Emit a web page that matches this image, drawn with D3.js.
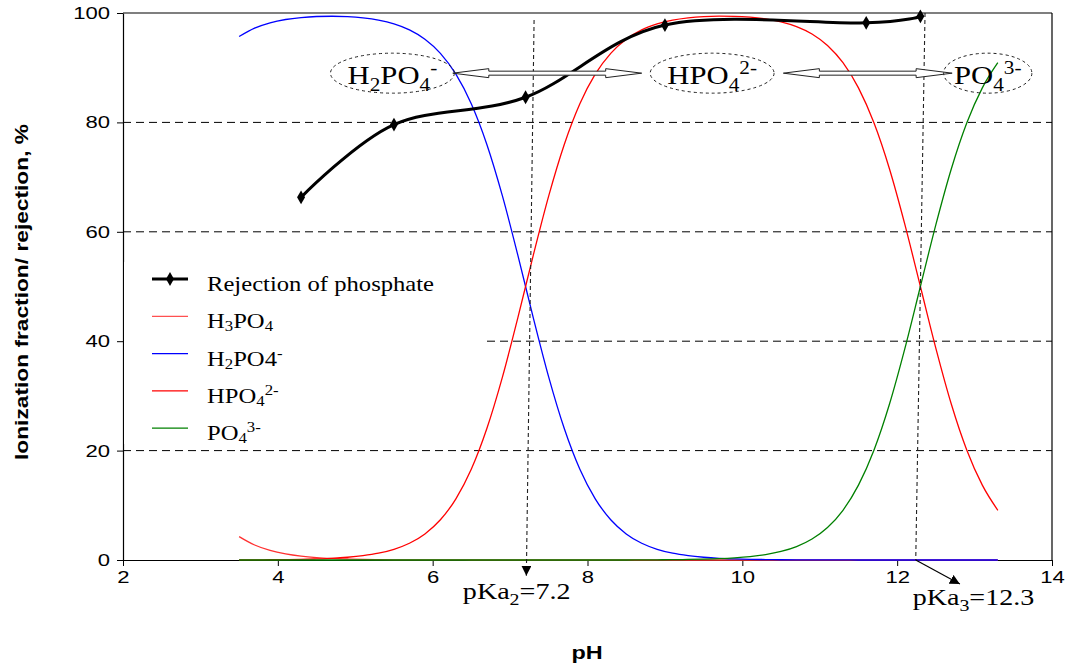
<!DOCTYPE html>
<html>
<head>
<meta charset="utf-8">
<script src="https://cdn.jsdelivr.net/npm/d3@7"></script>
<style>
  body { margin: 0; background: #fff; }
  svg { display: block; }
</style>
</head>
<body>
<svg id="chart" width="1069" height="668"></svg>
<script>
// pH grid of the speciation curves
const pH = [3.5, 3.7, 3.9, 4.1, 4.3, 4.5, 4.7, 4.9, 5.1, 5.3,
            5.5, 5.7, 5.9, 6.1, 6.3, 6.5, 6.7, 6.9, 7.1, 7.3,
            7.5, 7.7, 7.9, 8.1, 8.3, 8.5, 8.7, 8.9, 9.1, 9.3,
            9.5, 9.7, 9.9, 10.1, 10.3, 10.5, 10.7, 10.9, 11.1, 11.3,
            11.5, 11.7, 11.9, 12.1, 12.3, 12.5, 12.7, 12.9, 13.1, 13.3];

// Ionization fractions, %
const h3po4 = [4.28, 2.74, 1.75, 1.11, 0.70, 0.44, 0.28, 0.18, 0.11, 0.07,
               0.04, 0.03, 0.02, 0.01, 0.01, 0, 0, 0, 0, 0,
               0, 0, 0, 0, 0, 0, 0, 0, 0, 0,
               0, 0, 0, 0, 0, 0, 0, 0, 0, 0,
               0, 0, 0, 0, 0, 0, 0, 0, 0, 0];
const h2po4 = [95.70, 97.23, 98.20, 98.81, 99.17, 99.36, 99.41, 99.33, 99.10, 98.69,
               98.00, 96.91, 95.21, 92.63, 88.82, 83.37, 75.97, 66.61, 55.73, 44.27,
               33.39, 24.03, 16.63, 11.18, 7.36, 4.77, 3.06, 1.96, 1.24, 0.79,
               0.50, 0.31, 0.20, 0.12, 0.08, 0.05, 0.03, 0.02, 0.01, 0.01,
               0, 0, 0, 0, 0, 0, 0, 0, 0, 0];
const hpo4 = [0.02, 0.03, 0.05, 0.08, 0.12, 0.20, 0.31, 0.50, 0.79, 1.24,
              1.96, 3.06, 4.77, 7.36, 11.18, 16.63, 24.03, 33.39, 44.27, 55.73,
              66.61, 75.97, 83.37, 88.82, 92.63, 95.21, 96.91, 97.99, 98.69, 99.11,
              99.35, 99.43, 99.40, 99.25, 98.93, 98.39, 97.52, 96.17, 94.06, 90.91,
              86.32, 79.93, 71.53, 61.31, 50.00, 38.69, 28.47, 20.07, 13.68, 9.09];
const po4 = [0, 0, 0, 0, 0, 0, 0, 0, 0, 0,
             0, 0, 0, 0, 0, 0, 0, 0, 0, 0,
             0, 0, 0, 0, 0, 0, 0.02, 0.04, 0.06, 0.10,
             0.16, 0.25, 0.40, 0.63, 0.99, 1.56, 2.45, 3.83, 5.94, 9.09,
             13.68, 20.07, 28.47, 38.69, 50.00, 61.31, 71.53, 79.93, 86.32, 90.91];

// Measured phosphate rejection, %
const rejectionPH = [4.3, 5.5, 7.2, 9.0, 11.6, 12.3];
const rejection = [66.3, 79.6, 84.6, 97.8, 98.2, 99.4];

const xTicks = [2, 4, 6, 8, 10, 12, 14];
const yTicks = [0, 20, 40, 60, 80, 100];
const gridValues = [20, 40, 60, 80];

// Label pieces: [text, role]; role is "sub", "sup" or undefined
const seriesNames = [
  [["Rejection of phosphate"]],
  [["H"], ["3", "sub"], ["PO"], ["4", "sub"]],
  [["H"], ["2", "sub"], ["PO4"], ["-", "sup"]],
  [["HPO"], ["4", "sub"], ["2-", "sup"]],
  [["PO"], ["4", "sub"], ["3-", "sup"]]
];

// Species zones along the top (pH of centre, value, half-width in pH)
const zoneLabels = [
  { cx: 5.48, cy: 89.0, rx: 0.80, parts: [["H"], ["2", "sub"], ["PO"], ["4", "sub"], ["-", "sup"]] },
  { cx: 9.61, cy: 89.0, rx: 0.80, parts: [["HPO"], ["4", "sub"], ["2-", "sup"]] },
  { cx: 13.17, cy: 89.0, rx: 0.57, parts: [["PO"], ["4", "sub"], ["3-", "sup"]] }
];
const zoneArrows = [[6.26, 8.70], [10.53, 12.71]];
const zoneArrowValue = 89.0;

// pKa markers
const pKaLines = [
  { top: [7.31, 98.7], bottom: [7.21, -2.9], arrow: null },
  { top: [12.36, 100], bottom: [12.24, 0], arrow: [12.81, -4.4] }
];
const pKaLabels = [
  { x: 6.39, y: -7.1, parts: [["pKa"], ["2", "sub"], ["=7.2"]] },
  { x: 12.20, y: -8.2, parts: [["pKa"], ["3", "sub"], ["=12.3"]] }
];

const SANS = "'Liberation Sans', Arial, sans-serif";
const SERIF = "'Liberation Serif', 'Times New Roman', serif";

const svg = d3.select("#chart");
const x = d3.scaleLinear().domain([2, 14]).range([123, 1052]);
const y = d3.scaleLinear().domain([0, 100]).range([560, 13]);

const defs = svg.append("defs");
defs.append("marker")
  .attr("id", "headBlack")
  .attr("viewBox", "0 0 10 10")
  .attr("refX", 10).attr("refY", 5)
  .attr("markerWidth", 10).attr("markerHeight", 10)
  .attr("markerUnits", "userSpaceOnUse")
  .attr("orient", "auto")
  .append("path").attr("d", "M0,0 L10,5 L0,10 Z").attr("fill", "#000");

// writes label pieces as tspans with sub/superscript offsets
function writeParts(text, parts, size, subSize, subDy, supDy) {
  let offset = 0;
  parts.forEach(([s, role]) => {
    const target = role === "sub" ? subDy : role === "sup" ? supDy : 0;
    text.append("tspan")
      .attr("dy", target - offset)
      .attr("font-size", role ? subSize : size)
      .text(s);
    offset = target;
  });
}

// text whose glyphs are widened along the reading direction
function wideText(parent, px, py, sx, extra) {
  return parent.append("g")
    .attr("transform", `translate(${px},${py}) ${extra || ""} scale(${sx},1)`)
    .append("text");
}

// horizontal dashed gridlines
svg.append("g").selectAll("line").data(gridValues).join("line")
  .attr("x1", x(2)).attr("x2", x(14))
  .attr("y1", d => y(d)).attr("y2", d => y(d))
  .attr("stroke", "#000").attr("stroke-width", 1)
  .attr("stroke-dasharray", "8,5");

// frame: top and right edges
svg.append("line").attr("x1", x(2)).attr("x2", x(14)).attr("y1", y(100)).attr("y2", y(100))
  .attr("stroke", "#000").attr("stroke-width", 1.2);
svg.append("line").attr("x1", x(14)).attr("x2", x(14)).attr("y1", y(100)).attr("y2", y(0))
  .attr("stroke", "#000").attr("stroke-width", 1.2);

// axes
const xAxis = svg.append("g").attr("transform", `translate(0,${y(0)})`)
  .call(d3.axisBottom(x).tickValues(xTicks).tickSize(6).tickSizeOuter(0).tickPadding(5).tickFormat(d3.format("d")));
const yAxis = svg.append("g").attr("transform", `translate(${x(2)},0)`)
  .call(d3.axisLeft(y).tickValues(yTicks).tickSize(6).tickSizeOuter(0).tickFormat(d3.format("d")));
[xAxis, yAxis].forEach(g => {
  g.select(".domain").attr("stroke", "#000").attr("stroke-width", 1.2);
  g.selectAll(".tick line").attr("stroke", "#000");
  g.selectAll(".tick text").attr("font-family", SANS).attr("font-size", 17).attr("fill", "#000");
});
xAxis.selectAll(".tick text").attr("transform", "scale(1.3,1)");
yAxis.selectAll(".tick text").attr("x", -10).attr("transform", "scale(1.3,1)");

// axis titles
wideText(svg, 28, 292, 1.3, "rotate(-90)")
  .attr("text-anchor", "middle").attr("font-family", SANS).attr("font-weight", "bold")
  .attr("font-size", 17.5).attr("fill", "#000")
  .text("Ionization fraction/ rejection, %");
wideText(svg, 587, 659, 1.3)
  .attr("text-anchor", "middle").attr("font-family", SANS).attr("font-weight", "bold")
  .attr("font-size", 18).attr("fill", "#000")
  .text("pH");

// legend background hides the gridlines behind it
svg.append("rect").attr("x", x(2) + 1).attr("y", 262).attr("width", 359).attr("height", 182)
  .attr("fill", "#fff");

// speciation curves
const species = [
  { values: h3po4, color: "#ff3030" },
  { values: h2po4, color: "#0000ff" },
  { values: hpo4, color: "#ff0000" },
  { values: po4, color: "#008000" }
];
const speciesLine = d3.line().x(d => x(d[0])).y(d => y(d[1])).curve(d3.curveMonotoneX);
svg.append("g").selectAll("path").data(species).join("path")
  .attr("d", s => speciesLine(pH.map((p, i) => [p, s.values[i]])))
  .attr("fill", "none").attr("stroke", s => s.color).attr("stroke-width", 1.3);

// rejection curve
const rejPts = rejectionPH.map((p, i) => [p, rejection[i]]);
svg.append("path")
  .attr("d", d3.line().x(d => x(d[0])).y(d => y(d[1])).curve(d3.curveCardinal.tension(0))(rejPts))
  .attr("fill", "none").attr("stroke", "#000").attr("stroke-width", 3);
svg.append("g").selectAll("path").data(rejPts).join("path")
  .attr("transform", d => `translate(${x(d[0])},${y(d[1])})`)
  .attr("d", d3.symbol(d3.symbolDiamond, 55))
  .attr("fill", "#000");

// pKa guide lines
pKaLines.forEach(l => {
  svg.append("line")
    .attr("x1", x(l.top[0])).attr("y1", y(l.top[1]))
    .attr("x2", x(l.bottom[0])).attr("y2", y(l.bottom[1]))
    .attr("stroke", "#222").attr("stroke-width", 1.1)
    .attr("stroke-dasharray", "4,3")
    .attr("marker-end", l.arrow ? null : "url(#headBlack)");
  if (l.arrow) {
    svg.append("line")
      .attr("x1", x(l.bottom[0])).attr("y1", y(l.bottom[1]))
      .attr("x2", x(l.arrow[0])).attr("y2", y(l.arrow[1]))
      .attr("stroke", "#000").attr("stroke-width", 1.2)
      .attr("marker-end", "url(#headBlack)");
  }
});
pKaLabels.forEach(l => {
  const t = wideText(svg, x(l.x), y(l.y), 1.17)
    .attr("font-family", SERIF).attr("fill", "#000");
  writeParts(t, l.parts, 24, 17, 6, -9);
});

// hollow double-headed arrows between species zones
function doubleArrow(x0, x1, yc, head, hh, sh) {
  return [
    [x0, yc], [x0 + head, yc - hh], [x0 + head, yc - sh], [x1 - head, yc - sh],
    [x1 - head, yc - hh], [x1, yc], [x1 - head, yc + hh], [x1 - head, yc + sh],
    [x0 + head, yc + sh], [x0 + head, yc + hh]
  ];
}
svg.append("g").selectAll("polygon").data(zoneArrows).join("polygon")
  .attr("points", d => doubleArrow(x(d[0]), x(d[1]), y(zoneArrowValue), 36, 4.5, 2).map(p => p.join(",")).join(" "))
  .attr("fill", "#fff").attr("stroke", "#222").attr("stroke-width", 1);

// dashed ellipses with species names
const ry = 20;
zoneLabels.forEach(z => {
  const cx = x(z.cx), cy = y(z.cy);
  svg.append("ellipse")
    .attr("cx", cx).attr("cy", cy)
    .attr("rx", x(z.cx + z.rx) - cx).attr("ry", ry)
    .attr("fill", "none").attr("stroke", "#222").attr("stroke-width", 1)
    .attr("stroke-dasharray", "3,3");
  const t = wideText(svg, cx, cy + 11, 1.18)
    .attr("text-anchor", "middle").attr("font-family", SERIF).attr("fill", "#000");
  writeParts(t, z.parts, 26, 18, 7, -10);
});

// legend
const legendX = 152, legendY0 = 279, legendStep = 37.3;
const legendStyles = [
  { color: "#000", width: 3, marker: true },
  { color: "#ff5050", width: 1.3 },
  { color: "#0000ff", width: 1.3 },
  { color: "#ff0000", width: 1.3 },
  { color: "#008000", width: 1.3 }
];
seriesNames.forEach((parts, i) => {
  const ly = legendY0 + i * legendStep;
  const st = legendStyles[i];
  svg.append("line").attr("x1", legendX).attr("x2", legendX + 36).attr("y1", ly).attr("y2", ly)
    .attr("stroke", st.color).attr("stroke-width", st.width);
  if (st.marker) {
    svg.append("path").attr("transform", `translate(${legendX + 18},${ly})`)
      .attr("d", d3.symbol(d3.symbolDiamond, 55)).attr("fill", "#000");
  }
  const t = wideText(svg, 207, ly + 12, 1.12).attr("font-family", SERIF).attr("fill", "#000");
  writeParts(t, parts, 22, 15, 3, -8);
});
</script>
</body>
</html>
